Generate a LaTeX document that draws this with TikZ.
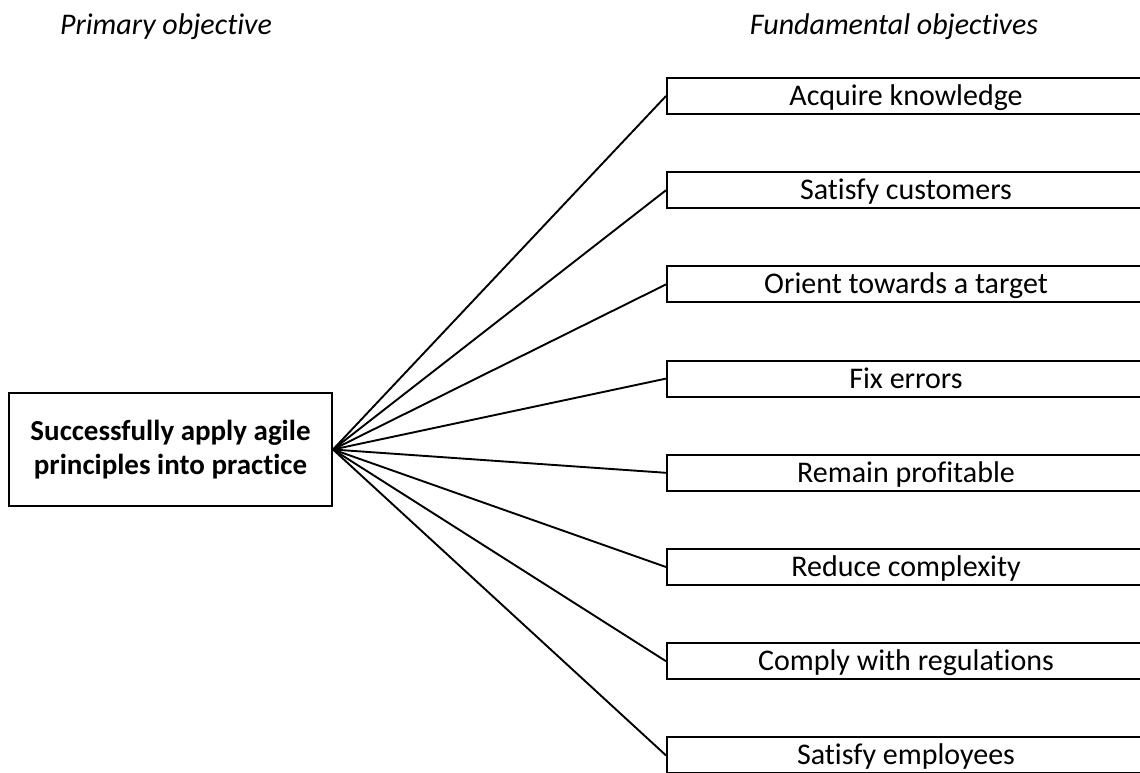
\documentclass[tikz,border=0pt]{standalone}
\usepackage{fontspec}
\setmainfont{Carlito}[Ligatures=NoCommon]
\begin{document}
\begin{tikzpicture}[x=1pt,y=-1pt,
  goalbox/.style={draw,line width=2pt,minimum width=478pt,minimum height=36pt,inner sep=0pt,
    text height=20pt,text depth=1pt,font=\fontsize{30}{36}\selectfont},
  mainbox/.style={draw,line width=2pt,minimum width=323pt,minimum height=113pt,inner sep=0pt,align=center,font=\fontsize{29}{34}\selectfont\bfseries},
  heading/.style={font=\fontsize{30}{36}\selectfont\itshape},
  link/.style={line width=1.9pt}]
\clip (0,0) rectangle (1140,772);
\useasboundingbox (0,0) rectangle (1140,772);
% column headings
\node[heading] (hl) at (166,27) {Primary objective};
\node[heading] (hr) at (894,27) {Fundamental objectives};
% primary objective
\node[mainbox] (main) at (170.5,449.5) {Successfully apply agile\\principles into practice};
% fundamental objectives
\foreach \i/\t in {0/Acquire knowledge,1/Satisfy customers,2/Orient towards a target,3/Fix errors,4/Remain profitable,5/Reduce complexity,6/Comply with regulations,7/Satisfy employees}{
  \node[goalbox] (g\i) at (906,96+94.2*\i) {\t};
  \draw[link] (main.east) -- (g\i.west);
}
\end{tikzpicture}
\end{document}
